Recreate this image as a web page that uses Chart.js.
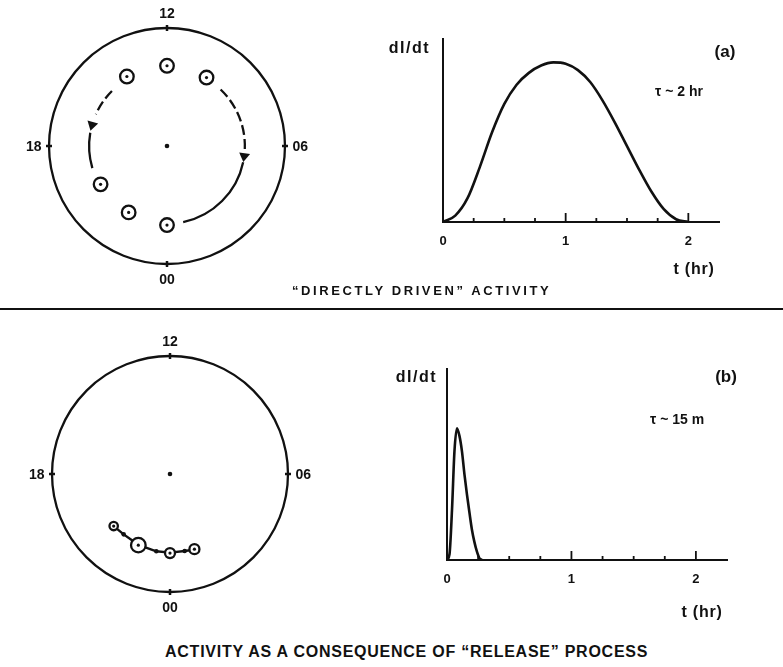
<!DOCTYPE html>
<html>
<head>
<meta charset="utf-8">
<script src="https://cdn.jsdelivr.net/npm/chart.js@4.4.0/dist/chart.umd.min.js"></script>
<style>
  html, body { margin: 0; padding: 0; background: #fff; }
  body { width: 783px; height: 667px; position: relative; overflow: hidden; font-family: 'Liberation Sans', Arial, sans-serif; }
  .panel { position: absolute; }
  .caption { position: absolute; font-weight: bold; color: #111; white-space: nowrap; line-height: 1; }
  #rule { position: absolute; left: 0; top: 308px; width: 783px; height: 2px; background: #111; }
</style>
</head>
<body>
<div class="panel" style="left:21.5px; top:1px; width:290px; height:290px"><canvas id="dialA"></canvas></div>
<div class="panel" style="left:370px; top:20px; width:390px; height:280px"><canvas id="curveA"></canvas></div>
<div class="caption" style="left:292px; top:284px; font-size:13px; letter-spacing:2.6px">“DIRECTLY DRIVEN” ACTIVITY</div>
<div id="rule"></div>
<div class="panel" style="left:25.3px; top:328.7px; width:290px; height:290px"><canvas id="dialB"></canvas></div>
<div class="panel" style="left:370px; top:340px; width:390px; height:290px"><canvas id="curveB"></canvas></div>
<div class="caption" style="left:165px; top:644px; font-size:16px; letter-spacing:0.75px">ACTIVITY AS A CONSEQUENCE OF “RELEASE” PROCESS</div>

<script>
// dial positions: local time (hours) and distance from centre (fraction of dial radius)
const mltA = [12, 14, 10, 20, 22, 0];
const radA = [0.68, 0.68, 0.67, 0.65, 0.65, 0.67];

const mltB = [20.85, 22.4, 0, 1.2];
const radB = [0.65, 0.66, 0.67, 0.67];
const mltTrackB = [20.85, 21.5, 22.4, 23.33, 0, 0.72, 1.2];
const radTrackB = [0.65, 0.645, 0.657, 0.665, 0.666, 0.664, 0.674];

const dialHours = [12, 6, 0, 18];
const dialLabels = ['12', '06', '00', '18'];

// dI/dt profiles
const tA = [0, 0.1, 0.2, 0.3, 0.4, 0.5, 0.6, 0.7, 0.8, 0.9, 1.0, 1.1, 1.2, 1.3, 1.4, 1.5, 1.6, 1.7, 1.8, 1.9, 2.0];
const rateA = [0, 0.035, 0.13, 0.30, 0.49, 0.645, 0.75, 0.815, 0.855, 0.872, 0.865, 0.83, 0.765, 0.665, 0.545, 0.415, 0.285, 0.165, 0.07, 0.015, 0];

const tB = [0, 0.02, 0.04, 0.06, 0.08, 0.10, 0.12, 0.14, 0.16, 0.18, 0.20, 0.22, 0.24, 0.26, 0.28];
const rateB = [0, 0.03, 0.26, 0.57, 0.69, 0.65, 0.57, 0.45, 0.345, 0.25, 0.16, 0.095, 0.045, 0.01, 0];

const tickHours = [0, 1, 2];
const quarterTicks = [0.25, 0.5, 0.75, 1, 1.25, 1.5, 1.75, 2];

const ink = '#111';
const fontFam = '"Liberation Sans", Arial, sans-serif';
const lim = 1.229;

function dialXY(hours, radii) {
    return hours.map((h, i) => {
        const a = (90 - 15 * h) * Math.PI / 180;
        return { x: radii[i] * Math.cos(a), y: -radii[i] * Math.sin(a) };
    });
}

function hourAngle(h) {
    return (90 - 15 * h) * Math.PI / 180;
}

// circle, hour marks and flow arrows of a dial
const dialPlugin = {
    id: 'dial',
    beforeDatasetsDraw(chart, args, opts) {
        const { ctx, scales: { x, y } } = chart;
        const cx = x.getPixelForValue(0), cy = y.getPixelForValue(0);
        const R = x.getPixelForValue(1) - cx;
        ctx.save();
        ctx.strokeStyle = ink;
        ctx.fillStyle = ink;
        ctx.lineWidth = 2.3;
        ctx.beginPath();
        ctx.arc(cx, cy, R, 0, Math.PI * 2);
        ctx.stroke();

        ctx.font = 'bold 14px ' + fontFam;
        ctx.textAlign = 'center';
        ctx.textBaseline = 'middle';
        dialHours.forEach((h, i) => {
            const a = hourAngle(h);
            ctx.lineWidth = 2.5;
            ctx.beginPath();
            ctx.moveTo(cx + (R - 3) * Math.cos(a), cy + (R - 3) * Math.sin(a));
            ctx.lineTo(cx + (R + 3) * Math.cos(a), cy + (R + 3) * Math.sin(a));
            ctx.stroke();
            const lr = R * opts.labelRadius;
            ctx.fillText(dialLabels[i], cx + lr * Math.cos(a), cy + lr * Math.sin(a) + 1);
        });

        const Rf = R * (opts.flowRadius || 0.66);
        ctx.lineWidth = 2.3;
        (opts.arcs || []).forEach(arc => {
            ctx.setLineDash(arc.dashed ? [10, 4] : []);
            ctx.beginPath();
            ctx.arc(cx, cy, Rf, hourAngle(arc.from), hourAngle(arc.to), arc.to > arc.from);
            ctx.stroke();
        });
        ctx.setLineDash([]);
        (opts.arrows || []).forEach(ar => {
            const a = hourAngle(ar.at);
            const px = cx + Rf * Math.cos(a), py = cy + Rf * Math.sin(a);
            let tx = -Math.sin(a), ty = Math.cos(a);
            if (ar.dir > 0) { tx = -tx; ty = -ty; }
            const nx = Math.cos(a), ny = Math.sin(a);
            ctx.beginPath();
            ctx.moveTo(px + tx * 5, py + ty * 5);
            ctx.lineTo(px - tx * 4 + nx * 5.5, py - ty * 4 + ny * 5.5);
            ctx.lineTo(px - tx * 4 - nx * 5.5, py - ty * 4 - ny * 5.5);
            ctx.closePath();
            ctx.fill();
        });
        ctx.restore();
    }
};

// upward ticks on the time axis plus the panel annotations
const framePlugin = {
    id: 'frame',
    afterDraw(chart, args, opts) {
        const { ctx, chartArea, scales: { x } } = chart;
        ctx.save();
        ctx.strokeStyle = ink;
        ctx.lineWidth = 1.8;
        quarterTicks.forEach(v => {
            const px = x.getPixelForValue(v);
            const len = Number.isInteger(v) ? 9 : 4;
            ctx.beginPath();
            ctx.moveTo(px, chartArea.bottom);
            ctx.lineTo(px, chartArea.bottom - len);
            ctx.stroke();
        });
        ctx.fillStyle = ink;
        ctx.textBaseline = 'middle';
        (opts.notes || []).forEach(n => {
            ctx.font = 'bold ' + n.size + 'px ' + fontFam;
            ctx.letterSpacing = (n.spacing || 0) + 'px';
            ctx.textAlign = n.align || 'left';
            ctx.fillText(n.text, n.x, n.y);
        });
        ctx.restore();
    }
};

function dialChart(id, datasets, dial) {
    return new Chart(document.getElementById(id), {
        type: 'scatter',
        data: { datasets },
        options: {
            responsive: true,
            maintainAspectRatio: false,
            animation: false,
            layout: { padding: 0, autoPadding: false },
            plugins: { legend: { display: false }, tooltip: { enabled: false }, dial },
            scales: {
                x: { display: false, min: -lim, max: lim },
                y: { display: false, min: -lim, max: lim }
            }
        },
        plugins: [dialPlugin]
    });
}

function curveChart(id, xs, ys, pad, notes) {
    return new Chart(document.getElementById(id), {
        type: 'scatter',
        data: {
            datasets: [{
                data: xs.map((t, i) => ({ x: t, y: ys[i] })),
                showLine: true,
                borderColor: ink,
                borderWidth: 2.6,
                pointRadius: 0,
                cubicInterpolationMode: 'monotone',
                fill: false
            }]
        },
        options: {
            responsive: true,
            maintainAspectRatio: false,
            animation: false,
            layout: { padding: pad, autoPadding: false },
            plugins: { legend: { display: false }, tooltip: { enabled: false }, frame: { notes } },
            scales: {
                x: {
                    type: 'linear', min: 0, max: 2.25,
                    grid: { display: false, drawTicks: false },
                    border: { display: true, color: ink, width: 2 },
                    ticks: { color: ink, padding: 12, font: { size: 13, weight: 'bold', family: fontFam } },
                    afterBuildTicks: s => { s.ticks = tickHours.map(v => ({ value: v })); },
                    afterFit: s => { s.height = 40; }
                },
                y: {
                    min: 0, max: 1,
                    grid: { display: false, drawTicks: false },
                    border: { display: true, color: ink, width: 2 },
                    ticks: { display: false },
                    afterFit: s => { s.width = 0; }
                }
            }
        },
        plugins: [framePlugin]
    });
}

// (a) directly driven
const ringsA = dialXY(mltA, radA);
dialChart('dialA', [
    { data: ringsA, pointRadius: 1.6, pointBackgroundColor: ink, pointBorderWidth: 0 },
    { data: [{ x: 0, y: 0 }], pointRadius: 2.3, pointBackgroundColor: ink, pointBorderWidth: 0 },
    { data: ringsA, pointRadius: 6.8, pointBackgroundColor: '#fff', pointBorderColor: ink, pointBorderWidth: 2.3 }
], {
    labelRadius: 1.13,
    flowRadius: 0.66,
    arcs: [
        { from: 9.1, to: 5.75, dashed: true },
        { from: 5.2, to: 0.8, dashed: false },
        { from: 15.0, to: 16.4, dashed: true },
        { from: 17.35, to: 19.1, dashed: false }
    ],
    arrows: [{ at: 5.45, dir: -1 }, { at: 17.0, dir: 1 }]
});

curveChart('curveA', tA, rateA, { left: 73, top: 19, right: 41, bottom: 38 }, [
    { text: 'dI/dt', x: 60, y: 29, size: 16, align: 'right', spacing: 1.5 },
    { text: '(a)', x: 355, y: 32, size: 17, align: 'center' },
    { text: 'τ ~ 2 hr', x: 285, y: 72, size: 14 },
    { text: 't (hr)', x: 324, y: 250, size: 16, align: 'center', spacing: 0.8 }
]);

// (b) release process
const ringsB = dialXY(mltB, radB);
dialChart('dialB', [
    { data: ringsB, pointRadius: 1.6, pointBackgroundColor: ink, pointBorderWidth: 0 },
    { data: [{ x: 0, y: 0 }], pointRadius: 2.3, pointBackgroundColor: ink, pointBorderWidth: 0 },
    { data: ringsB, pointRadius: [4.2, 7.3, 5, 5], pointBackgroundColor: '#fff', pointBorderColor: ink, pointBorderWidth: 2.3 },
    { data: dialXY(mltTrackB, radTrackB), showLine: true, borderColor: ink, borderWidth: 2.4, pointRadius: 2.3, pointBackgroundColor: ink, pointBorderWidth: 0 }
], {
    labelRadius: 1.13
});

curveChart('curveB', tB, rateB, { left: 77, top: 29, right: 33, bottom: 30 }, [
    { text: 'dI/dt', x: 67, y: 38, size: 16, align: 'right', spacing: 1.5 },
    { text: '(b)', x: 356, y: 37, size: 17, align: 'center' },
    { text: 'τ ~ 15 m', x: 280, y: 80, size: 14 },
    { text: 't (hr)', x: 332, y: 273, size: 16, align: 'center', spacing: 0.8 }
]);
</script>
</body>
</html>
